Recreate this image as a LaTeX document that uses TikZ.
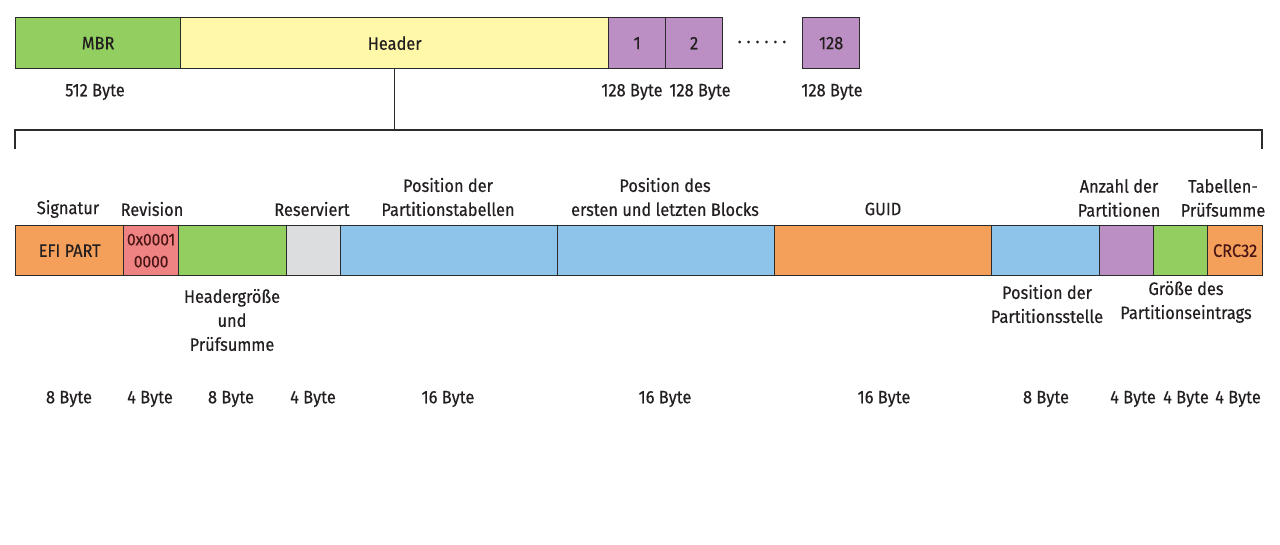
\documentclass[tikz,border=0pt]{standalone}
\usepackage{fontspec}
\setmainfont{Fira Sans}[FakeStretch=0.91,FakeBold=0.4]
\definecolor{linec}{HTML}{2B2B2B}
\definecolor{txt}{HTML}{231F20}
\definecolor{cgreen}{HTML}{92CF60}
\definecolor{cyellow}{HTML}{FFF8A8}
\definecolor{cpurple}{HTML}{BB8FC3}
\definecolor{corange}{HTML}{F5A05A}
\definecolor{cpink}{HTML}{EF8383}
\definecolor{cgray}{HTML}{DCDDDE}
\definecolor{cblue}{HTML}{8FC4EA}
\definecolor{maroon}{HTML}{4A1515}
\begin{document}
\begin{tikzpicture}[x=1pt,y=-1pt,
  every node/.style={text=txt,font=\fontsize{18}{24}\selectfont},
  topbox/.style={draw=linec,line width=1.3pt,minimum height=51,inner sep=0,anchor=north west},
  fld/.style={draw=linec,line width=1.3pt,minimum height=50,inner sep=0,anchor=north west},
  lbl/.style={align=center,inner sep=0}
]
\useasboundingbox[fill=white] (0,0) rectangle (1280,545);
% top row
\node[topbox,fill=cgreen,minimum width=165] (mbr) at (15,17) {MBR};
\node[topbox,fill=cyellow,minimum width=428] (header) at (180,17) {Header};
\node[topbox,fill=cpurple,minimum width=57] (p1) at (608,17) {1};
\node[topbox,fill=cpurple,minimum width=57] (p2) at (665,17) {2};
\node[lbl] (dots) at (762,42) {.\hspace{5pt}.\hspace{5pt}.\hspace{5pt}.\hspace{5pt}.\hspace{5pt}.};
\node[topbox,fill=cpurple,minimum width=57] (p128) at (802,17) {128};
\node[lbl] (lmbr) at (95,92) {512 Byte};
\node[lbl] (lp1) at (632,92) {128 Byte};
\node[lbl] (lp2) at (700,92) {128 Byte};
\node[lbl] (lp128) at (832,92) {128 Byte};
% bracket
\coordinate (bl) at (15,149);
\coordinate (blt) at (15,130);
\coordinate (brt) at (1262,130);
\coordinate (br) at (1262,149);
\draw[linec,line width=1.6pt] (bl) -- (blt) -- (brt) -- (br);
\draw[linec,line width=1.6pt] (header.south) -- (header.south |- blt);
% fields
\node[fld,fill=corange,minimum width=108] (sig) at (15,225) {EFI PART};
\node[fld,fill=cpink,minimum width=55,align=center,text=maroon,font=\fontsize{17}{22}\selectfont] (rev) at (123,225) {0x0001\\0000};
\node[fld,fill=cgreen,minimum width=108] (hsz) at (178,225) {};
\node[fld,fill=cgray,minimum width=54] (res) at (286,225) {};
\node[fld,fill=cblue,minimum width=217] (ptab) at (340,225) {};
\node[fld,fill=cblue,minimum width=217] (blk) at (557,225) {};
\node[fld,fill=corange,minimum width=217] (guid) at (774,225) {};
\node[fld,fill=cblue,minimum width=108] (pst) at (991,225) {};
\node[fld,fill=cpurple,minimum width=54] (anz) at (1099,225) {};
\node[fld,fill=cgreen,minimum width=54] (gr) at (1153,225) {};
\node[fld,fill=corange,minimum width=55,text=maroon] (crc) at (1207,225) {CRC32};
% labels above
\node[lbl] (tsig) at (68,209) {Signatur};
\node[lbl] (trev) at (152,209) {Revision};
\node[lbl] (tres) at (312,209) {Reserviert};
\node[lbl] (tptab) at (448,197) {Position der\\Partitionstabellen};
\node[lbl] (tblk) at (665,197) {Position des\\ersten und letzten Blocks};
\node[lbl] (tguid) at (883,209) {GUID};
\node[lbl] (tanz) at (1119,198) {Anzahl der\\Partitionen};
\node[lbl] (tcrc) at (1223,198) {Tabellen-\\Prüfsumme};
% labels below
\node[lbl] (thsz) at (232,320) {Headergröße\\und\\Prüfsumme};
\node[lbl] (tpst) at (1047,304) {Position der\\Partitionsstelle};
\node[lbl] (tgr) at (1186,302) {Größe des\\Partitionseintrags};
% byte sizes
\node[lbl] (b1) at (69,399) {8 Byte};
\node[lbl] (b2) at (150,399) {4 Byte};
\node[lbl] (b3) at (231,399) {8 Byte};
\node[lbl] (b4) at (313,399) {4 Byte};
\node[lbl] (b5) at (448,399) {16 Byte};
\node[lbl] (b6) at (665,399) {16 Byte};
\node[lbl] (b7) at (884,399) {16 Byte};
\node[lbl] (b8) at (1046,399) {8 Byte};
\node[lbl] (b9) at (1133,399) {4 Byte};
\node[lbl] (b10) at (1186,399) {4 Byte};
\node[lbl] (b11) at (1238,399) {4 Byte};
\end{tikzpicture}
\end{document}
